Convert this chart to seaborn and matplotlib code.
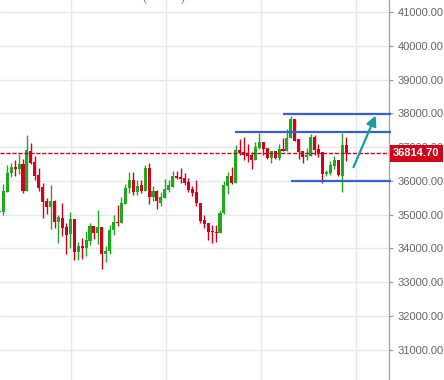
import numpy as np
import matplotlib
matplotlib.use("Agg")
import matplotlib.pyplot as plt
import matplotlib.transforms as mtransforms
import seaborn as sns

# candle data (open, high, low, close)
opens = [35080, 35080, 35670, 36230, 36410, 36350, 36500, 35700, 36880, 36560,
         36180, 35820, 35400, 35230, 35400, 34780, 34900, 34640, 34430, 34870,
         33900, 34070, 34010, 34220, 34660, 34460, 34640, 33840, 33930, 34550,
         34780, 34750, 35320, 35790, 36030, 35670, 35880, 35700, 36380, 35520,
         35700, 35350, 35500, 35730, 35820, 36150, 36120, 36090, 35970, 35760,
         35670, 35350, 34840, 34750, 34520, 34490, 34460, 35050, 35850, 36150,
         35940, 36910, 36850, 36800, 36770, 36620, 36980, 37150, 36970, 36680,
         36890, 36680, 36940, 36880, 37270, 37830, 37240, 36880, 36710, 36740,
         37300, 36940, 36850, 36210, 36230, 36440, 36620, 36150, 37060]
highs = [35110, 35910, 36470, 36530, 36620, 36800, 36650, 37360, 37120, 36740,
         36380, 35940, 35490, 35880, 35430, 34990, 35350, 34760, 35080, 34870,
         34190, 34310, 34520, 34750, 34660, 35140, 34640, 34070, 34700, 34990,
         35290, 35520, 35910, 36260, 36260, 36030, 36030, 36470, 36530, 35850,
         35730, 35670, 36060, 36030, 36290, 36290, 36380, 36230, 36090, 35850,
         36030, 35350, 34990, 34750, 34700, 34700, 35140, 36000, 36260, 36410,
         37060, 37240, 37300, 37090, 36860, 37150, 37420, 37150, 36970, 36890,
         36890, 37090, 37270, 37540, 37920, 37830, 37240, 36880, 36970, 37390,
         37360, 37090, 36850, 36320, 36590, 36740, 36620, 37420, 37300]
lows = [35050, 34990, 35670, 36120, 36150, 36200, 35640, 35700, 36500, 36030,
        35700, 34900, 35020, 34580, 34610, 34160, 34370, 33840, 34010, 33660,
        33660, 33690, 33780, 34100, 34280, 34130, 33390, 33600, 33840, 34400,
        34670, 34750, 35320, 35640, 35580, 35580, 35640, 35700, 35320, 35410,
        35170, 35260, 35500, 35670, 35820, 36060, 35940, 35880, 35670, 35550,
        35260, 34750, 34610, 34250, 34160, 34190, 34460, 35020, 35610, 35910,
        35940, 36770, 36620, 36560, 36350, 36620, 36940, 36770, 36650, 36530,
        36650, 36620, 36880, 36880, 37270, 37180, 36650, 36530, 36620, 36740,
        36770, 36710, 35940, 36150, 36180, 36350, 36150, 35670, 36590]
closes = [35110, 35700, 36230, 36410, 36350, 36500, 35700, 36910, 36530, 36150,
          35790, 35380, 35230, 35400, 34780, 34930, 34610, 34400, 34870, 33900,
          34070, 34010, 34250, 34660, 34460, 34640, 33840, 33930, 34550, 34780,
          34750, 35350, 35790, 36030, 35670, 35850, 35700, 36380, 35520, 35700,
          35410, 35520, 35760, 35880, 36150, 36090, 36060, 35940, 35730, 35640,
          35350, 34810, 34720, 34490, 34490, 34460, 35050, 35880, 36150, 35940,
          36910, 36820, 36770, 36740, 36620, 37000, 37150, 36940, 36680, 36890,
          36680, 36940, 36880, 37270, 37830, 37180, 36860, 36710, 36770, 37300,
          36910, 36820, 36210, 36270, 36470, 36620, 36180, 37060, 36814.70]

last_price = 36814.70
price_ticks = [31000, 32000, 33000, 34000, 35000, 36000, 37000, 38000, 39000, 40000, 41000]

# hand-drawn levels: (start candle, price)
levels = [(72.0, 37980), (59.8, 37460), (74.0, 36000)]
arrow_start = (89.6, 36330)
arrow_end = (95.8, 38010)

sns.set_style("white")
plt.rcParams['font.family'] = ['Liberation Sans', 'DejaVu Sans']

fig = plt.figure(figsize=(4.44, 3.80), dpi=100)
ax = fig.add_axes([0, 0, 389 / 444, 1])

green = "#1fa822"
red = "#d0021b"
x = np.arange(len(opens))
o = np.array(opens, dtype=float)
c = np.array(closes, dtype=float)
colors = [green if cc >= oo else red for oo, cc in zip(o, c)]
bottom = np.minimum(o, c)
height = np.maximum(np.abs(c - o), 40)

ax.vlines(x, lows, highs, colors=colors, linewidth=1.0, zorder=3)
ax.bar(x, height, bottom=bottom, width=0.78, color=colors, linewidth=0, zorder=4)

# last price line
ax.axhline(last_price, color=red, linewidth=1.0, linestyle=(0, (3, 1.3)), zorder=5)

# support / resistance lines
for x0, lvl in levels:
    ax.plot([x0, 99.5], [lvl, lvl], color="#3a5fcd", linewidth=1.6,
            solid_capstyle="butt", zorder=6, clip_on=False)

ax.annotate("", xy=arrow_end, xytext=arrow_start,
            arrowprops=dict(arrowstyle="-|>,head_length=0.6,head_width=0.3",
                            color="#189c9c", linewidth=1.6), zorder=7)

ax.set_xlim(0.16, 98.9)
ax.set_ylim(30107, 41355)

ax.set_yticks(price_ticks)
ax.set_yticklabels([f"{t:.2f}" for t in price_ticks])
ax.yaxis.tick_right()
ax.tick_params(axis="y", length=3, width=0.8, color="#999999", pad=3,
               labelsize=8, labelcolor="#666666")
ax.set_xticks([18.2, 42.3, 66.4, 90.5])
ax.tick_params(axis="x", length=0, labelbottom=False)
ax.grid(True, color="#e1eaf1", linewidth=1.0)
ax.set_axisbelow(True)

for side in ["top", "left", "bottom"]:
    ax.spines[side].set_visible(False)
ax.spines["right"].set_color("#a0a0a0")
ax.spines["right"].set_linewidth(0.9)

# price label box on the axis
trans = mtransforms.blended_transform_factory(ax.transAxes, ax.transData)
ax.text(1.0 + 4 / 389, last_price, f"{last_price:.2f}", transform=trans,
        ha="left", va="center", color="white", fontsize=8, fontweight="bold",
        bbox=dict(boxstyle="square,pad=0.3", facecolor=red, edgecolor="none"),
        zorder=10, clip_on=False)

# clipped title remnant at the top
fig.text(0.322, 1.003, "(           )", color="#e06070", fontsize=8,
         ha="left", va="center")

fig.savefig("out.png", dpi=100)
